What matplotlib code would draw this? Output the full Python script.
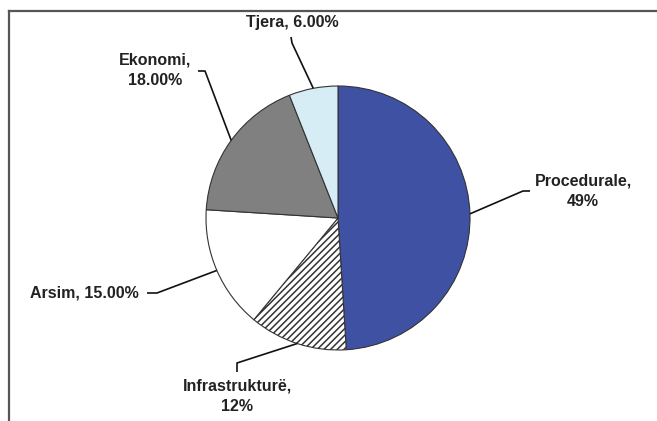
"""
Pie chart: ndarja e ankesave sipas kategorive.
"""

import numpy as np
import matplotlib.pyplot as plt

# Të dhënat
kategorite = ["Procedurale", "Infrastrukturë", "Arsim", "Ekonomi", "Tjera"]
vlerat = [49, 12, 15, 18, 6]
etiketat = ["Procedurale,\n49%", "Infrastrukturë,\n12%", "Arsim, 15.00%",
            "Ekonomi,\n18.00%", "Tjera, 6.00%"]
ngjyrat = ["#3f51a3", "#ffffff", "#ffffff", "#808080", "#d7edf6"]
vija = ["", "/////", "", "", ""]

W, H = 657, 421

plt.rcParams.update({
    "font.family": ["Liberation Sans", "DejaVu Sans"],
    "hatch.linewidth": 1.1,
})


def Y(y):
    # koordinata nga lart poshtë -> nga poshtë lart
    return H - y


fig = plt.figure(figsize=(W / 100, H / 100), dpi=100)
ax = fig.add_axes([0, 0, 1, 1])

# ── Pite ──
cx, cy, r = 338, Y(218), 132
wedges, _ = ax.pie(vlerat, startangle=90, counterclock=False,
                   center=(cx, cy), radius=r, colors=ngjyrat, frame=True,
                   wedgeprops=dict(edgecolor="#333", linewidth=0.8))
for w, h in zip(wedges, vija):
    if h:
        w.set_hatch(h)
ax.set_xlim(0, W)
ax.set_ylim(0, H)
ax.axis("off")

# ── Korniza ──
ax.plot([9, W], [Y(11), Y(11)], color="#555", lw=1.6)
ax.plot([9, 9], [Y(11), 0], color="#555", lw=1.6)

# ── Etiketat dhe vijat udhëzuese ──
tekst_poz = [(583, 191), (237, 396), (30, 293), (155, 70), (292, 23)]
tekst_ha = ["center", "center", "left", "center", "center"]
berryli = [[(530, 191), (523, 191)],
           [(237, 372), (237, 363)],
           [(147, 293), (157, 293)],
           [(198, 71), (205, 71)],
           [(291, 37), (292, 43)]]

for w, lab, (tx, ty), ha, pts in zip(wedges, etiketat, tekst_poz, tekst_ha, berryli):
    mid = np.radians((w.theta1 + w.theta2) / 2)
    ex, ey = cx + r * np.cos(mid), cy + r * np.sin(mid)
    xs = [p[0] for p in pts] + [ex]
    ys = [Y(p[1]) for p in pts] + [ey]
    ax.plot(xs, ys, color="#111", lw=1.2, solid_capstyle="butt")
    ax.text(tx, Y(ty), lab, ha=ha, va="center", fontsize=11.5,
            fontweight="bold", color="#222", linespacing=1.45)

fig.savefig("out.png", dpi=100)
plt.close(fig)
